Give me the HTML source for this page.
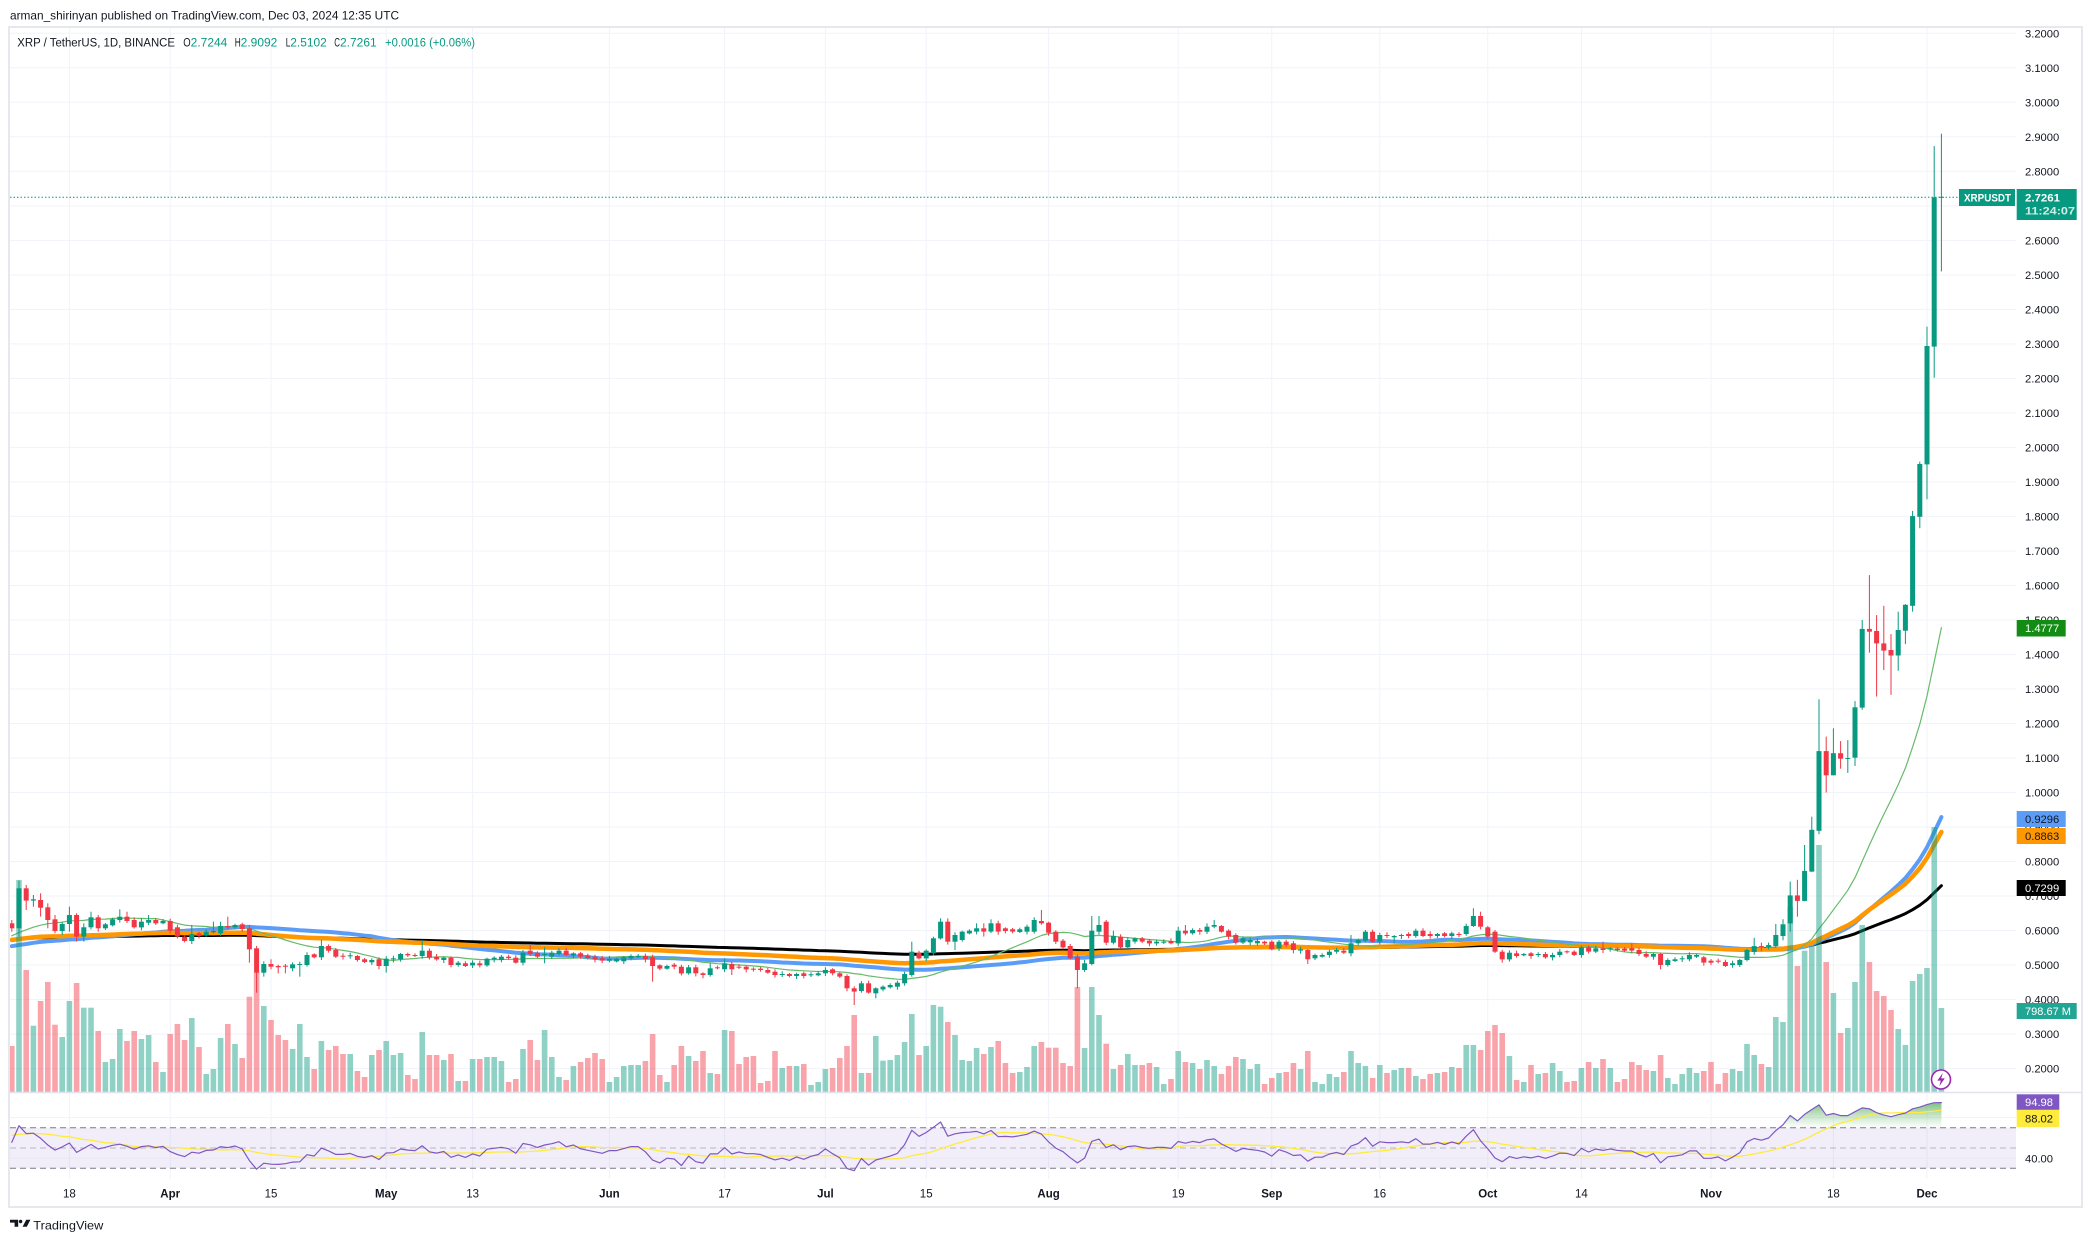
<!DOCTYPE html>
<html><head><meta charset="utf-8">
<style>
html,body{margin:0;padding:0;background:#fff;width:2092px;height:1243px;overflow:hidden}
svg{display:block}
text{font-family:"Liberation Sans",Arial,sans-serif}
</style></head>
<body>
<svg id="c" width="2092" height="1243" viewBox="0 0 2092 1243" xmlns="http://www.w3.org/2000/svg">
<defs>
<clipPath id="cpMain"><rect x="10" y="28" width="2006" height="1064"/></clipPath>
<clipPath id="cpRsi"><rect x="10" y="1093" width="2006" height="86"/></clipPath>
<linearGradient id="rg" gradientUnits="userSpaceOnUse" x1="0" y1="1097" x2="0" y2="1128">
<stop offset="0" stop-color="#43a047" stop-opacity="0.85"/>
<stop offset="1" stop-color="#66bb6a" stop-opacity="0"/>
</linearGradient>
</defs>
<rect x="0" y="0" width="2092" height="1243" fill="#fff"/>
<!-- header -->
<text x="10" y="19.3" font-size="11.8" fill="#131722" textLength="389" lengthAdjust="spacingAndGlyphs">arman_shirinyan published on TradingView.com, Dec 03, 2024 12:35 UTC</text>
<!-- frame -->
<rect x="9" y="27" width="2073" height="1180" fill="none" stroke="#e6e8ee" stroke-width="2"/>
<g id="grid"></g>
<!-- RSI band -->
<rect x="10" y="1127.7" width="2006" height="40.6" fill="#7e57c2" fill-opacity="0.1"/>
<line x1="10" y1="1117.6" x2="2016" y2="1117.6" stroke="#f0f3fa" stroke-width="1"/>
<line x1="10" y1="1158.3" x2="2016" y2="1158.3" stroke="#e9e6f2" stroke-width="1"/>
<line x1="10" y1="1127.7" x2="2016" y2="1127.7" stroke="#787b86" stroke-width="1" stroke-dasharray="6,4"/>
<line x1="10" y1="1148" x2="2016" y2="1148" stroke="#787b86" stroke-opacity="0.5" stroke-width="1" stroke-dasharray="6,4"/>
<line x1="10" y1="1168.3" x2="2016" y2="1168.3" stroke="#787b86" stroke-width="1" stroke-dasharray="6,4"/>
<line x1="9" y1="1092.5" x2="2082" y2="1092.5" stroke="#e0e3eb" stroke-width="1.5"/>
<g clip-path="url(#cpMain)">
<g id="ma"></g>
<g id="vol"></g>
<g id="cdl"></g>
</g>
<g clip-path="url(#cpRsi)" id="rsi"></g>
<!-- price line -->
<line x1="10" y1="197.3" x2="1959" y2="197.3" stroke="#089981" stroke-width="1" stroke-dasharray="1.5,2"/>
<!-- lightning icon -->
<circle cx="1941" cy="1079.5" r="9.5" fill="#fff" stroke="#9c27b0" stroke-width="1.6"/>
<path d="M1942.8,1073 L1937.3,1080.6 L1940.8,1080.6 L1939.3,1086.2 L1944.8,1078.4 L1941.2,1078.4 Z" fill="#9c27b0"/>
<!-- legend -->
<g font-size="11.5">
<text x="17.3" y="46.7" fill="#131722" textLength="157.7" lengthAdjust="spacingAndGlyphs">XRP / TetherUS, 1D, BINANCE</text>
<text x="183.3" y="46.7" fill="#131722" textLength="7.4" lengthAdjust="spacingAndGlyphs">O</text>
<text x="190.7" y="46.7" fill="#089981" textLength="36.6" lengthAdjust="spacingAndGlyphs">2.7244</text>
<text x="234.7" y="46.7" fill="#131722" textLength="6" lengthAdjust="spacingAndGlyphs">H</text>
<text x="240.7" y="46.7" fill="#089981" textLength="36.6" lengthAdjust="spacingAndGlyphs">2.9092</text>
<text x="285.7" y="46.7" fill="#131722" textLength="4.6" lengthAdjust="spacingAndGlyphs">L</text>
<text x="290.3" y="46.7" fill="#089981" textLength="36.4" lengthAdjust="spacingAndGlyphs">2.5102</text>
<text x="334.3" y="46.7" fill="#131722" textLength="5.7" lengthAdjust="spacingAndGlyphs">C</text>
<text x="340" y="46.7" fill="#089981" textLength="36.7" lengthAdjust="spacingAndGlyphs">2.7261</text>
<text x="385" y="46.7" fill="#089981" textLength="90" lengthAdjust="spacingAndGlyphs">+0.0016 (+0.06%)</text>
</g>
<!-- price axis labels -->
<g font-size="11.2" fill="#131722">
<text x="2025" y="37.3">3.2000</text>
<text x="2025" y="71.8">3.1000</text>
<text x="2025" y="106.3">3.0000</text>
<text x="2025" y="140.8">2.9000</text>
<text x="2025" y="175.3">2.8000</text>
<text x="2025" y="209.8">2.7000</text>
<text x="2025" y="244.4">2.6000</text>
<text x="2025" y="278.9">2.5000</text>
<text x="2025" y="313.4">2.4000</text>
<text x="2025" y="347.9">2.3000</text>
<text x="2025" y="382.4">2.2000</text>
<text x="2025" y="416.9">2.1000</text>
<text x="2025" y="451.4">2.0000</text>
<text x="2025" y="485.9">1.9000</text>
<text x="2025" y="520.4">1.8000</text>
<text x="2025" y="554.9">1.7000</text>
<text x="2025" y="589.5">1.6000</text>
<text x="2025" y="624.0">1.5000</text>
<text x="2025" y="658.5">1.4000</text>
<text x="2025" y="693.0">1.3000</text>
<text x="2025" y="727.5">1.2000</text>
<text x="2025" y="762.0">1.1000</text>
<text x="2025" y="796.5">1.0000</text>
<text x="2025" y="831.0">0.9000</text>
<text x="2025" y="865.5">0.8000</text>
<text x="2025" y="900.0">0.7000</text>
<text x="2025" y="934.6">0.6000</text>
<text x="2025" y="969.1">0.5000</text>
<text x="2025" y="1003.6">0.4000</text>
<text x="2025" y="1038.1">0.3000</text>
<text x="2025" y="1072.6">0.2000</text>
<text x="2025" y="1162.3">40.00</text>
</g>
<!-- value labels -->
<rect x="1959" y="189" width="56" height="17" fill="#089981"/>
<text x="1964" y="201.5" font-size="11" font-weight="bold" fill="#fff" textLength="47" lengthAdjust="spacingAndGlyphs">XRPUSDT</text>
<rect x="2016.7" y="189" width="60" height="31" fill="#089981"/>
<text x="2025" y="201.5" font-size="11.2" font-weight="bold" fill="#fff" textLength="35" lengthAdjust="spacingAndGlyphs">2.7261</text>
<text x="2025" y="214.7" font-size="11.2" font-weight="bold" fill="#cdeee7" textLength="50" lengthAdjust="spacingAndGlyphs">11:24:07</text>
<rect x="2016.7" y="620" width="49" height="16.5" fill="#138c13"/>
<text x="2025" y="632.2" font-size="11.2" fill="#fff">1.4777</text>
<rect x="2016.7" y="811" width="49" height="16" fill="#5b9cf6"/>
<text x="2025" y="823" font-size="11.2" fill="#131722">0.9296</text>
<rect x="2016.7" y="828" width="49" height="16" fill="#ff9800"/>
<text x="2025" y="840" font-size="11.2" fill="#131722">0.8863</text>
<rect x="2016.7" y="880" width="49" height="16" fill="#000"/>
<text x="2025" y="892" font-size="11.2" fill="#fff">0.7299</text>
<rect x="2016.7" y="1003" width="60" height="16" fill="#22a694"/>
<text x="2025" y="1015" font-size="11.2" fill="#fff" textLength="46" lengthAdjust="spacingAndGlyphs">798.67 M</text>
<rect x="2016.7" y="1094.3" width="42.6" height="15.5" fill="#7e57c2"/>
<text x="2025" y="1106" font-size="11.2" fill="#fff">94.98</text>
<rect x="2016.7" y="1110" width="42.6" height="17" fill="#ffeb3b"/>
<text x="2025" y="1122.5" font-size="11.2" fill="#131722">88.02</text>
<!-- time axis -->
<g font-size="11.5" fill="#131722" text-anchor="middle">
<text x="69.4" y="1197.5">18</text>
<text x="170.2" y="1197.5" font-weight="bold">Apr</text>
<text x="271" y="1197.5">15</text>
<text x="386.2" y="1197.5" font-weight="bold">May</text>
<text x="472.6" y="1197.5">13</text>
<text x="609.4" y="1197.5" font-weight="bold">Jun</text>
<text x="724.6" y="1197.5">17</text>
<text x="825.4" y="1197.5" font-weight="bold">Jul</text>
<text x="926.2" y="1197.5">15</text>
<text x="1048.6" y="1197.5" font-weight="bold">Aug</text>
<text x="1178.2" y="1197.5">19</text>
<text x="1271.8" y="1197.5" font-weight="bold">Sep</text>
<text x="1379.8" y="1197.5">16</text>
<text x="1487.8" y="1197.5" font-weight="bold">Oct</text>
<text x="1581.4" y="1197.5">14</text>
<text x="1711" y="1197.5" font-weight="bold">Nov</text>
<text x="1833.4" y="1197.5">18</text>
<text x="1927" y="1197.5" font-weight="bold">Dec</text>
</g>
<!-- footer logo -->
<path d="M10,1219.8 H18.2 V1226.8 H14.6 V1222.6 H10 Z" fill="#131722"/>
<circle cx="20.6" cy="1221.5" r="1.7" fill="#131722"/>
<path d="M22.6,1226.8 L26.2,1219.8 H30.4 L26.8,1226.8 Z" fill="#131722"/>
<text x="33.3" y="1229.3" font-size="12" fill="#131722" textLength="70" lengthAdjust="spacingAndGlyphs">TradingView</text>
</svg>
<script>
(function(){
var NS='http://www.w3.org/2000/svg';
var X0=11.8,DX=7.2;
function xi(i){return X0+DX*i;}
function py(p){return 33.3+(3.2-p)*345.1;}
function yp(y){return 3.2-(y-33.3)/345.1;}
function zy(z){return 860+z/3;}
var D=[
['r',190,205,180,215],['g',85,205,62,230],['r',85,122,75,150],['g',118,122,105,140],['r',120,143,100,170],
['r',142,180,130,205],['r',178,213,165,220],['g',192,213,185,225],['g',165,192,140,215],['r',165,230,160,245],
['g',202,230,190,245],['g',172,202,155,208],['r',172,205,165,215],['g',193,205],['g',178,196],
['g',170,180,148],['r',170,183,155],['r',180,202],['g',185,202,175],['g',180,188,165],
['r',180,190],['g',183,190],['r',183,212],['r',202,230,0,235],['r',230,243],
['g',222,243,195],['r',220,228],['g',215,225],['g',213,217,185],['g',198,220,185],
['r',198,202,170],['g',195,202],['r',193,207,188],['r',205,268,195,308],['r',265,338,0,398],
['g',312,338,0,350],['r',312,320,298],['r',318,322,0,340],['r',317,319,0,340],['g',313,325],
['g',312,315,0,350],['g',285,315],['r',283,292],['g',258,292,240],['r',258,272],
['r',270,290],['r',287,290],['g',286,289],['r',288,300],['r',298,306],
['g',300,307],['r',298,318,0,328],['g',296,318,0,338],['g',295,298],['g',282,298],
['r',282,286],['r',285,288],['g',272,288,240],['r',272,293],['r',290,298],
['g',293,300],['r',293,315],['g',308,315],['r',310,318],['g',308,316],
['r',310,316],['g',296,316],['g',293,298],['g',290,300],['r',290,294],
['r',293,308],['g',278,308],['r',272,282,255],['r',278,290],['g',282,284,262,310],
['g',278,290],['g',272,282],['r',272,285],['g',280,287],['r',280,290],
['r',286,294],['r',290,298],['r',295,302],['g',296,302],['g',296,304],
['g',292,304],['g',288,295],['g',288,290],['r',288,298],['r',292,318,0,365],
['r',316,326],['g',318,326],['r',314,320],['r',320,340],['g',322,340],
['r',322,340],['r',340,345,0,355],['g',325,345,310],['r',322,325],['g',310,328,295],
['r',312,328,0,345],['r',320,323],['r',320,328],['r',326,328],['r',326,330],
['r',330,338],['r',335,345],['g',342,345],['r',342,348],['g',342,348],
['r',340,348],['g',343,346],['g',340,346],['g',330,340],['r',328,340],
['r',340,350],['r',348,385],['r',385,395,0,435],['g',370,393],['r',370,398],
['g',385,400,0,415],['g',380,388],['g',375,382],['g',368,380],['g',342,370],
['g',275,345,245],['r',278,295,272],['g',272,295],['g',235,280],['g',185,235,175],
['r',185,245,175],['g',225,245,0,270],['g',215,240],['g',212,220],['g',205,215,190],
['r',205,215,190,230],['g',190,215,178],['r',190,215],['r',205,213],['r',208,215],
['g',208,216],['g',200,215],['g',180,215,172],['r',183,190,150],['r',188,218],
['r',215,245],['r',242,262],['r',258,295],['r',290,330,0,385],['g',310,330,300],
['g',212,312,168],['g',195,215,168],['r',185,248],['g',228,248,212],['r',230,262],
['g',240,262],['g',235,245],['r',235,245],['r',242,250],['g',245,250],
['g',245,247],['r',243,250],['g',212,250,200],['r',212,220,195],['g',210,220],
['r',210,215],['g',200,215,190],['g',195,200,180],['r',198,215],['r',212,230],
['r',225,248],['g',235,248],['g',240,247],['g',243,250],['r',245,250],
['r',245,268],['g',245,265],['r',245,255],['r',250,270,0,280],['g',268,272],
['r',270,298,0,312],['g',285,295],['g',285,290],['g',275,285],['g',270,275],
['r',272,278],['g',250,280,225],['g',240,250],['g',215,242],['r',215,245],
['g',225,245],['r',225,228],['g',228,232,0,250],['g',225,228],['r',222,228],
['g',212,228],['r',212,228],['r',222,228],['g',222,228],['r',220,228],
['g',220,228],['r',222,225],['g',198,222],['g',168,198,145],['r',168,200,155],
['r',202,230],['r',215,275],['r',275,298,0,308],['g',278,298],['r',280,288],
['g',282,286],['r',280,288],['g',282,285],['r',282,292],['g',285,292],
['g',275,285],['r',274,276],['r',275,285],['g',262,285],['r',262,275],
['g',265,275],['r',265,270,245],['g',265,268],['r',266,270],['r',266,272],
['r',265,272,250],['r',270,282],['r',282,290],['g',282,290],['r',282,315,0,328],
['g',300,315],['g',298,303],['g',295,298],['g',285,298],['g',285,290],
['r',292,308],['r',302,308],['r',302,305],['r',306,318],['g',310,315],
['g',300,315],['g',270,300]
];
var P=[
[0.538,0.555,0.579,0.53],[0.555,0.551,0.565,0.54],[0.551,0.558,0.565,0.545],[0.555,0.587,0.619,0.55],
[0.584,0.618,0.633,0.572],[0.621,0.702,0.742,0.597],[0.702,0.686,0.747,0.64],[0.686,0.773,0.848,0.685],
[0.771,0.892,0.93,0.77],[0.889,1.12,1.27,0.879],[1.12,1.05,1.162,1.0],[1.05,1.114,1.186,1.05],
[1.114,1.098,1.149,1.069],[1.098,1.1,1.152,1.057],[1.101,1.247,1.265,1.077],[1.246,1.474,1.5,1.24],
[1.474,1.466,1.63,1.405],[1.468,1.432,1.514,1.278],[1.432,1.411,1.541,1.355],[1.413,1.397,1.459,1.283],
[1.397,1.471,1.524,1.353],[1.469,1.544,1.546,1.43],[1.541,1.801,1.816,1.524],[1.799,1.952,1.959,1.766],
[1.951,2.294,2.35,1.85],[2.292,2.7244,2.873,2.202],[2.7244,2.7261,2.9092,2.5102]
];
var V=[558,60,330,497,423,366,494,531,423,369,
443,443,513,606,597,507,543,513,537,525,
606,636,522,492,540,474,561,642,627,534,
492,552,594,410,336,438,480,525,540,567,
492,591,627,543,570,558,582,582,633,651,
585,570,543,585,579,645,657,516,585,585,
600,582,663,663,597,597,591,591,603,666,
657,567,540,600,510,591,651,660,618,606,
594,579,597,666,651,618,615,615,603,522,
645,666,615,558,588,603,573,639,642,510,
513,612,591,588,669,663,573,624,618,618,
612,675,666,627,624,594,558,465,639,639,
528,602,600,585,546,462,585,558,435,440,
486,525,600,603,564,582,561,543,609,639,
636,621,558,546,563,563,609,618,381,564,
381,465,551,627,615,582,615,615,609,621,
672,657,573,606,609,627,600,618,642,618,
591,597,627,612,672,654,639,636,609,627,
573,666,672,642,651,636,573,609,618,654,
615,639,630,624,624,648,657,642,639,636,
621,624,555,555,570,513,495,519,588,660,
666,615,642,639,609,633,666,663,624,606,
624,597,624,666,657,606,615,630,633,585,
654,672,642,624,639,633,606,672,639,627,
633,552,585,612,621,471,486,140,318,272,
258,-45,306,399,519,504,366,195,306,393,
408,450,507,555,363,342,324,-99,444];
var O=[],H=[],L=[],C=[],G=[];
D.forEach(function(d,i){
  var t=yp(zy(d[1])),b=yp(zy(d[2]));
  var hz=d[3]||(d[1]-(3+(i*7)%6));
  var lz=d[4]||(d[2]+(3+(i*5)%7));
  if(d[0]=='g'){O.push(b);C.push(t);G.push(1);}else{O.push(t);C.push(b);G.push(0);}
  H.push(yp(zy(hz)));L.push(yp(zy(lz)));
});
P.forEach(function(p){O.push(p[0]);C.push(p[1]);H.push(p[2]);L.push(p[3]);G.push(p[1]>=p[0]?1:0);});
var N=C.length;
var pre=[],k;
for(k=0;k<30;k++)pre.push(0.535+0.012*Math.sin(k*1.7)+0.006*Math.cos(k*0.9));
for(k=0;k<20;k++)pre.push(0.52+0.12*k/19+0.01*Math.sin(k*2.1));
var all=pre.concat(C),off=pre.length;
function sma(n,j){var s=0;for(var q=j-n+1;q<=j;q++)s+=all[q];return s/n;}
var s20=[],s50=[],e100=[],e200=[],ea=0.572,eb=0.574,i;
for(i=0;i<N;i++){
  var j=i+off;
  s20.push(sma(20,j));s50.push(sma(50,j));
  ea=ea+(2/101)*(C[i]-ea);eb=eb+(2/201)*(C[i]-eb);
  e100.push(ea);e200.push(eb);
}
/* nudge SMA20 tail so it ends at 1.4777 */
var corr=1.4777/s20[N-1];
for(i=N-30;i<N;i++){var w=(i-(N-30))/29;s20[i]=s20[i]*(1+(corr-1)*w);}
var ag=0,al=0;
for(k=1;k<=14;k++){var dd=all[k]-all[k-1];if(dd>0)ag+=dd;else al-=dd;}
ag/=14;al/=14;
var rsiAll=[];
for(k=15;k<all.length;k++){var d2=all[k]-all[k-1];ag=(ag*13+Math.max(d2,0))/14;al=(al*13+Math.max(-d2,0))/14;rsiAll[k]=al==0?100:100-100/(1+ag/al);}
var R=[],RM=[];
for(i=0;i<N;i++){var jj=i+off;R.push(rsiAll[jj]);var s=0;for(k=jj-13;k<=jj;k++)s+=rsiAll[k];RM.push(s/14);}
function el(tag,attrs,parent){var e=document.createElementNS(NS,tag);for(var a in attrs)e.setAttribute(a,attrs[a]);parent.appendChild(e);return e;}
var gg=document.getElementById('grid');
for(k=2;k<=32;k++){var y=py(k/10);el('line',{x1:10,y1:y.toFixed(1),x2:2016,y2:y.toFixed(1),stroke:'#f0f3fa','stroke-width':1},gg);}
[8,22,36,52,64,83,99,113,127,144,162,175,190,205,218,236,253,266].forEach(function(t){var x=xi(t).toFixed(1);el('line',{x1:x,y1:28,x2:x,y2:1179,stroke:'#f0f3fa','stroke-width':1},gg);});
var gm=document.getElementById('ma');
function path(arr,col,w,g,yf){var d='';arr.forEach(function(v,q){d+=(q?'L':'M')+xi(q).toFixed(1)+','+yf(v).toFixed(1);});return el('path',{d:d,fill:'none',stroke:col,'stroke-width':w,'stroke-linejoin':'round','stroke-linecap':'round'},g);}
path(e200,'#000000',3,gm,py);
path(s50,'#5b9cf6',4,gm,py);
path(e100,'#ff9800',4.5,gm,py);
path(s20,'#66bb6a',1.2,gm,py);
var gv=document.getElementById('vol');
for(i=0;i<N;i++){var top=zy(V[i]);var h=1091.7-top;el('rect',{x:(xi(i)-2.8).toFixed(1),y:top.toFixed(1),width:5.6,height:h.toFixed(1),fill:G[i]?'#089981':'#f23645','fill-opacity':0.45},gv);}
var gc=document.getElementById('cdl');
for(i=0;i<N;i++){
  var col=G[i]?'#089981':'#f23645';var x=xi(i);
  var yh=py(H[i]),yl=py(L[i]);
  el('rect',{x:(x-0.5).toFixed(1),y:yh.toFixed(1),width:1,height:Math.max(1,yl-yh).toFixed(1),fill:col},gc);
  var yt=py(Math.max(O[i],C[i])),yb=py(Math.min(O[i],C[i]));
  el('rect',{x:(x-2.5).toFixed(1),y:yt.toFixed(1),width:5,height:Math.max(1,yb-yt).toFixed(1),fill:col},gc);
}
var gr=document.getElementById('rsi');
function ry(r){return 1148-(r-50)*1.015;}
var y70=ry(70);
var fd='M'+xi(0).toFixed(1)+','+y70.toFixed(1);
for(i=0;i<N;i++){fd+='L'+xi(i).toFixed(1)+','+Math.min(ry(R[i]),y70).toFixed(1);}
fd+='L'+xi(N-1).toFixed(1)+','+y70.toFixed(1)+'Z';
el('path',{d:fd,fill:'url(#rg)'},gr);
path(RM,'#ffeb3b',1.3,gr,ry);
path(R,'#7e57c2',1.2,gr,ry);
})();
</script>
</body></html>
